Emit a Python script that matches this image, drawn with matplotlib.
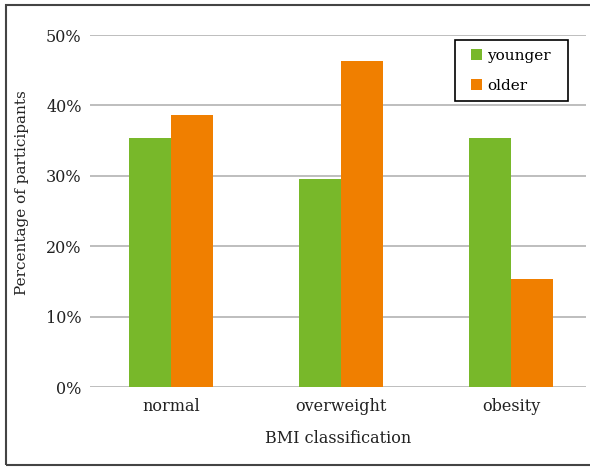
import matplotlib
matplotlib.use('Agg')
import matplotlib.pyplot as plt
from matplotlib.patches import Rectangle
from matplotlib.ticker import FuncFormatter

categories = ['normal', 'overweight', 'obesity']
younger = [35.4, 29.6, 35.4]
older = [38.6, 46.3, 15.4]
yticks = [0, 10, 20, 30, 40, 50]

green = '#78b82a'
orange = '#f07f00'

plt.rcParams['font.family'] = ['DejaVu Serif']
plt.rcParams['font.size'] = 11

fig = plt.figure(figsize=(5.9, 4.67), dpi=100)
W, H = 590, 467
ax = fig.add_axes([90 / W, 1 - 387 / H, (586 - 90) / W, (387 - 35) / H])

x = list(range(len(categories)))
bw = 0.245
ax.bar([i - bw / 2 for i in x], younger, width=bw, color=green, label='younger', zorder=3)
ax.bar([i + bw / 2 for i in x], older, width=bw, color=orange, label='older', zorder=3)

ax.set_xlim(-0.476, 2.441)
ax.set_ylim(0, 50)
ax.set_yticks(yticks)
ax.yaxis.set_major_formatter(FuncFormatter(lambda v, p: f'{v:.0f}%'))
ax.set_xticks(x)
ax.set_xticklabels(categories)
ax.grid(axis='y', color='#b3b3b3', linewidth=1.2, zorder=0)
ax.tick_params(length=0, pad=8, labelcolor='#222222', labelsize=11.5)
ax.tick_params(axis='y', pad=6)
for s in ax.spines.values():
    s.set_visible(False)

ax.set_xlabel('BMI classification', labelpad=11, color='#222222', fontsize=11.5)
ax.set_ylabel('Percentage of participants', color='#222222', fontsize=11)
ax.yaxis.set_label_coords((29 - 90) / 496, (387 - 193) / 352)

# legend without frame, box drawn separately
leg = ax.legend(loc='upper left', bbox_to_anchor=(471 / W, 1 - 49 / H),
                bbox_transform=fig.transFigure, frameon=False, handlelength=0.75,
                handleheight=0.75, borderpad=0, labelspacing=1.05, handletextpad=0.3,
                borderaxespad=0, fontsize=11)
ax.add_patch(Rectangle((455 / W, 1 - 101 / H), 113 / W, 61 / H, transform=fig.transFigure,
                       facecolor='white', edgecolor='black', linewidth=1.2, zorder=4,
                       clip_on=False))
leg.set_zorder(5)

fig.patches.append(Rectangle((6 / W, 1 - 465 / H), 600 / W, 460 / H, transform=fig.transFigure,
                             fill=False, edgecolor='#444444', linewidth=1.5, clip_on=False))

fig.savefig('out.png', dpi=100)
